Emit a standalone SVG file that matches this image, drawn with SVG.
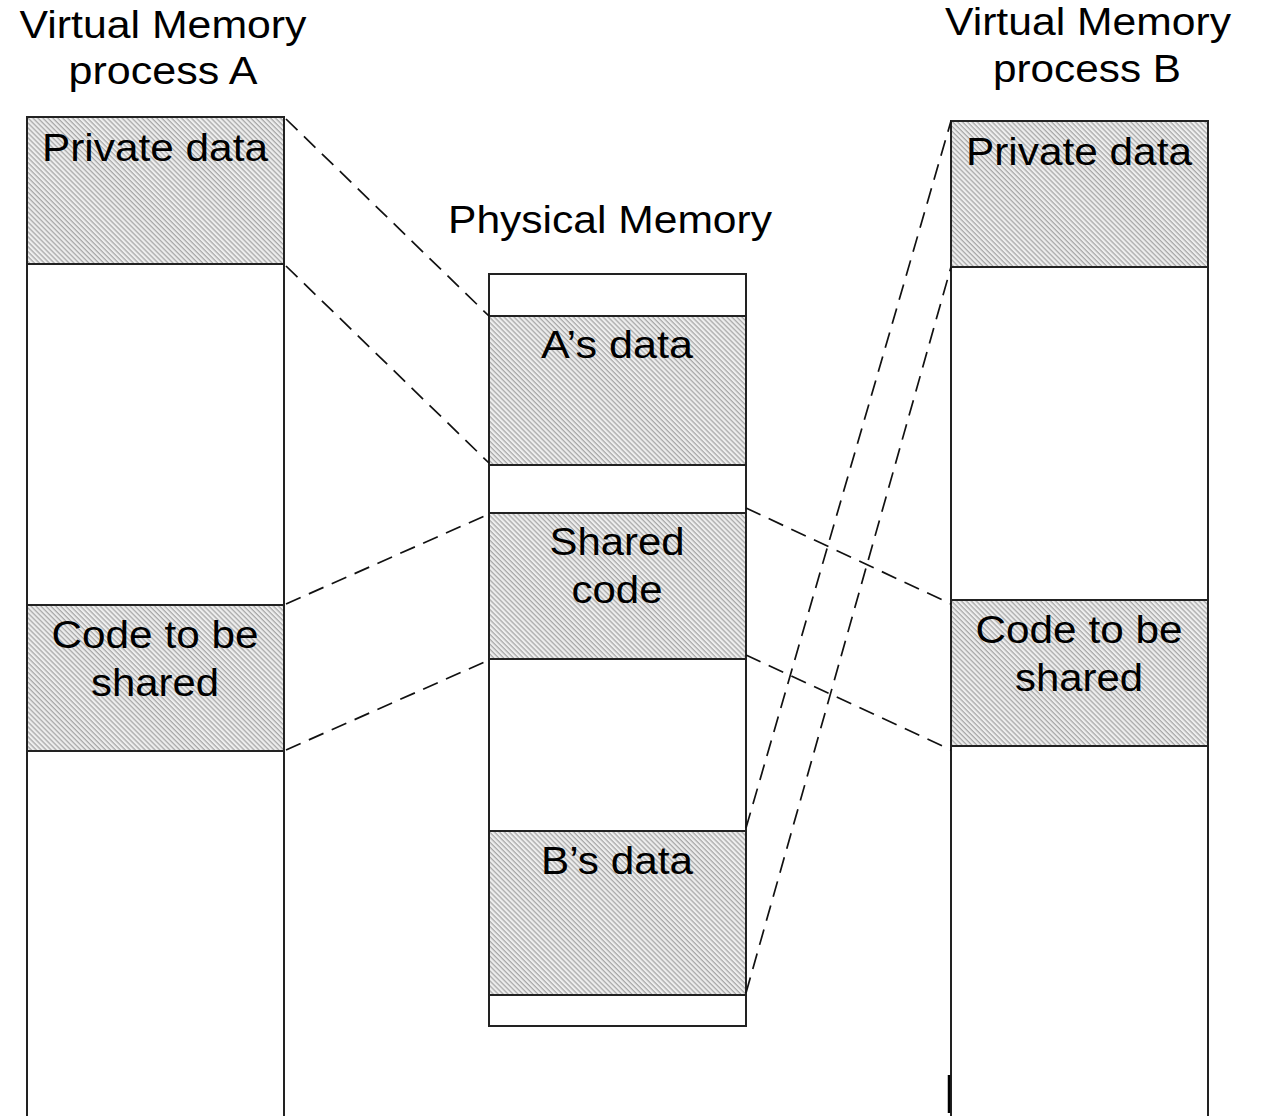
<svg xmlns="http://www.w3.org/2000/svg" width="1261" height="1116" viewBox="0 0 1261 1116">
<defs>
<pattern id="hatch" width="3.5" height="3.5" patternUnits="userSpaceOnUse" patternTransform="rotate(45)">
<rect width="3.5" height="3.5" fill="#eeeeee"/>
<rect width="3.5" height="1.3" fill="#a8a8a8"/>
</pattern>
</defs>
<style>
.box{fill:#fff;stroke:#222;stroke-width:2}
.hat{fill:url(#hatch);stroke:#222;stroke-width:2}
.ln{stroke:#222;stroke-width:2;fill:none}
.dash{stroke:#111;stroke-width:1.7;fill:none;stroke-dasharray:16 9}
text{font-family:"Liberation Sans",Arial,sans-serif;font-size:38px;fill:#000;text-anchor:middle}
</style>
<rect width="1261" height="1116" fill="#fff"/>
<g id="title-a"><text x="163" y="38" textLength="287" lengthAdjust="spacingAndGlyphs">Virtual Memory</text><text x="163" y="84" textLength="189" lengthAdjust="spacingAndGlyphs">process A</text></g>
<g id="title-b"><text x="1088" y="35" textLength="286" lengthAdjust="spacingAndGlyphs">Virtual Memory</text><text x="1087" y="82" textLength="188" lengthAdjust="spacingAndGlyphs">process B</text></g>
<g id="title-phys"><text x="610" y="233" textLength="324" lengthAdjust="spacingAndGlyphs">Physical Memory</text></g>
<g id="vm-a">
<path class="ln" d="M27 1117 V117 H284 V1117"/>
<rect class="hat" x="27" y="117" width="257" height="147"/>
<rect class="hat" x="27" y="605" width="257" height="146"/>
<text x="155" y="161" textLength="226" lengthAdjust="spacingAndGlyphs">Private data</text>
<text x="155" y="648" textLength="207" lengthAdjust="spacingAndGlyphs">Code to be</text>
<text x="155" y="696" textLength="128" lengthAdjust="spacingAndGlyphs">shared</text>
</g>
<g id="phys">
<rect class="box" x="489" y="274" width="257" height="752"/>
<rect class="hat" x="489" y="316" width="257" height="149"/>
<rect class="hat" x="489" y="513" width="257" height="146"/>
<rect class="hat" x="489" y="831" width="257" height="164"/>
<text x="617" y="358" textLength="152" lengthAdjust="spacingAndGlyphs">A’s data</text>
<text x="617" y="555" textLength="135" lengthAdjust="spacingAndGlyphs">Shared</text>
<text x="617" y="603" textLength="91" lengthAdjust="spacingAndGlyphs">code</text>
<text x="617" y="874" textLength="152" lengthAdjust="spacingAndGlyphs">B’s data</text>
</g>
<g id="vm-b">
<path class="ln" d="M951 1117 V121 H1208 V1117"/>
<rect class="hat" x="951" y="121" width="257" height="146"/>
<rect class="hat" x="951" y="600" width="257" height="146"/>
<line x1="949" y1="1075" x2="949" y2="1113" stroke="#000" stroke-width="2.5"/>
<text x="1079" y="165" textLength="226" lengthAdjust="spacingAndGlyphs">Private data</text>
<text x="1079" y="643" textLength="207" lengthAdjust="spacingAndGlyphs">Code to be</text>
<text x="1079" y="691" textLength="128" lengthAdjust="spacingAndGlyphs">shared</text>
</g>
<g id="connectors">
<line class="dash" x1="286" y1="119" x2="489" y2="316"/>
<line class="dash" x1="286" y1="266" x2="489" y2="463"/>
<line class="dash" x1="286" y1="604" x2="489" y2="514"/>
<line class="dash" x1="286" y1="750" x2="489" y2="660"/>
<line class="dash" x1="746" y1="508" x2="951" y2="604"/>
<line class="dash" x1="746" y1="655" x2="951" y2="750"/>
<line class="dash" x1="746" y1="828" x2="951" y2="121"/>
<line class="dash" x1="746" y1="993" x2="951" y2="267"/>
</g>
</svg>
